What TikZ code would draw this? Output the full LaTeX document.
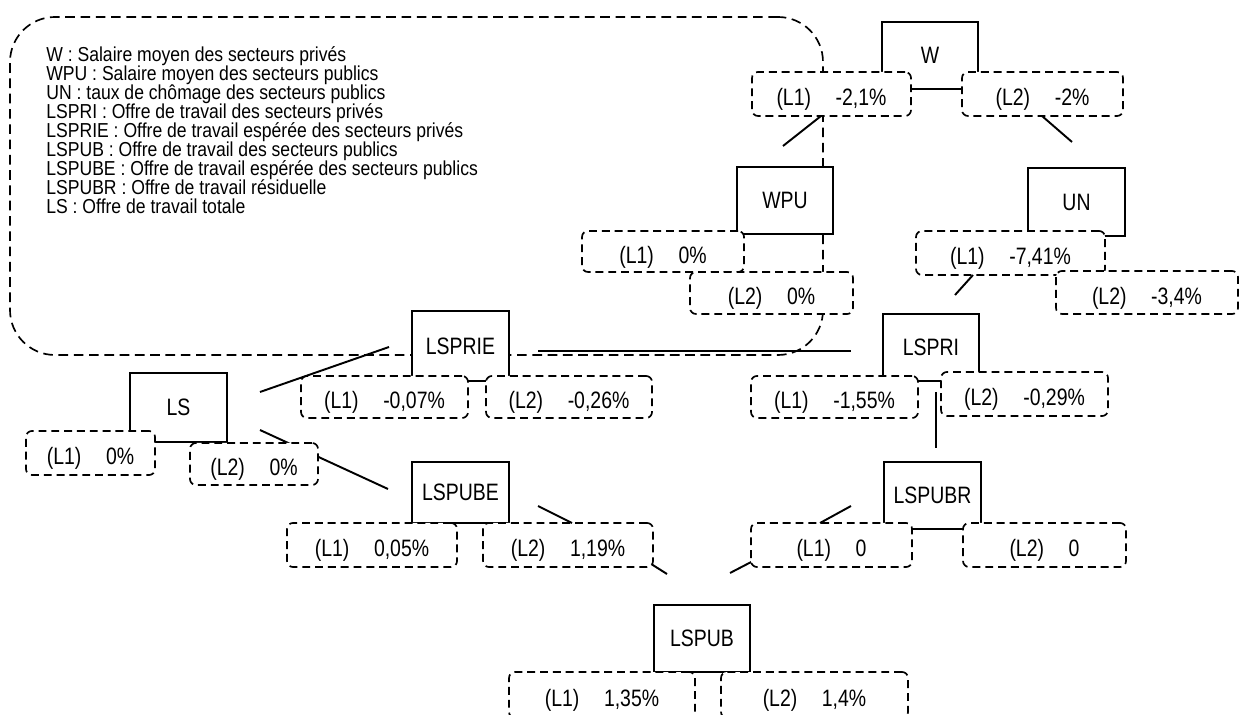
\documentclass[tikz,border=0pt]{standalone}
\usepackage{fontspec}
\setmainfont{Liberation Sans}[FakeStretch=0.82]
\newfontfamily\legendfont{Liberation Sans}[FakeStretch=0.87]
\usetikzlibrary{fit}

% value label: tag, gap, value; baseline placed so the caps sit just below the box centre
\newcommand{\lv}[2]{\raisebox{-6.7pt}[0pt][0pt]{#1\hspace{14pt}#2}}
% centred caps for the variable boxes
\newcommand{\ctr}[1]{\raisebox{-4.8pt}[0pt][0pt]{#1}}

\begin{document}
\begin{tikzpicture}[x=0.02cm,y=-0.02cm,
  every node/.style={font=\fontsize{13.5pt}{10.8pt}\selectfont},
  varbox/.style={draw, line width=1.1pt, fill=white, inner sep=0pt},
  valbox/.style={draw, dash pattern=on 4.5pt off 2.8pt, line width=0.95pt,
                 fill=white, rounded corners=3.4pt, inner sep=0pt},
  legendframe/.style={draw, dash pattern=on 5.5pt off 3.2pt, line width=0.95pt,
                      rounded corners=0.9cm, inner sep=0pt},
  legtxt/.style={anchor=base west, inner sep=0pt,
                 font=\legendfont\fontsize{11.5pt}{10.8pt}\selectfont},
  link/.style={line width=1.1pt}
]
\useasboundingbox (0,0) rectangle (1240,715);

% legend frame and its entries
\node[legendframe, fit={(10,17) (823,355)}] (legend) {};
\node[legtxt] (k1) at (46,62) {W : Salaire moyen des secteurs privés};
\node[legtxt] (k2) at (46,81) {WPU : Salaire moyen des secteurs publics};
\node[legtxt] (k3) at (46,100) {UN : taux de chômage des secteurs publics};
\node[legtxt] (k4) at (46,119) {LSPRI : Offre de travail des secteurs privés};
\node[legtxt] (k5) at (46,138) {LSPRIE : Offre de travail espérée des secteurs privés};
\node[legtxt] (k6) at (46,157) {LSPUB : Offre de travail des secteurs publics};
\node[legtxt] (k7) at (46,176) {LSPUBE : Offre de travail espérée des secteurs publics};
\node[legtxt] (k8) at (46,195) {LSPUBR : Offre de travail résiduelle};
\node[legtxt] (k9) at (46,214) {LS : Offre de travail totale};

% end points of the short connectors
\coordinate (c1a) at (821,116);  \coordinate (c1b) at (783,146);
\coordinate (c2a) at (1042,116); \coordinate (c2b) at (1072,142);
\coordinate (c3a) at (973,275);  \coordinate (c3b) at (955,295);
\coordinate (c4a) at (538,351);  \coordinate (c4b) at (851,351);
\coordinate (c5a) at (936,392);  \coordinate (c5b) at (936,448);
\coordinate (c6a) at (260,392);  \coordinate (c6b) at (389,347);
\coordinate (c7a) at (260,430);  \coordinate (c7b) at (388,489);
\coordinate (c8a) at (538,506);  \coordinate (c8b) at (572,523);
\coordinate (c9a) at (648,562);  \coordinate (c9b) at (667,574);
\coordinate (c10a) at (820,523); \coordinate (c10b) at (851,506);
\coordinate (c11a) at (755,560); \coordinate (c11b) at (730,573);

% connectors partly hidden behind the value boxes
\draw[link] (c7a) -- (c7b);
\draw[link] (c9a) -- (c9b);
\draw[link] (c11a) -- (c11b);

% W
\node[varbox, fit={(882,22) (978,89)}] (w) {\ctr{W}};
\node[valbox, fit={(752,72) (911,116)}] (wa) {\lv{(L1)}{-2,1\%}};
\node[valbox, fit={(962,72) (1123,116)}] (wb) {\lv{(L2)}{-2\%}};

% WPU
\node[varbox, fit={(737,167) (833,234)}] (wpu) {\ctr{WPU}};
\node[valbox, fit={(582,231) (744,272)}] (wpua) {\lv{(L1)}{0\%}};
\node[valbox, fit={(690,272) (853,314)}] (wpub) {\lv{(L2)}{0\%}};

% UN
\node[varbox, fit={(1028,168) (1125,236)}] (un) {\ctr{UN}};
\node[valbox, fit={(916,231) (1105,275)}] (una) {\lv{(L1)}{-7,41\%}};
\node[valbox, fit={(1056,271) (1238,314)}] (unb) {\lv{(L2)}{-3,4\%}};

% LSPRIE
\node[varbox, fit={(412,311) (509,381)}] (lsprie) {\ctr{LSPRIE}};
\node[valbox, fit={(301,376) (468,418)}] (lspriea) {\lv{(L1)}{-0,07\%}};
\node[valbox, fit={(486,376) (652,418)}] (lsprieb) {\lv{(L2)}{-0,26\%}};

% LSPRI
\node[varbox, fit={(883,314) (979,381)}] (lspri) {\ctr{LSPRI}};
\node[valbox, fit={(751,376) (918,418)}] (lspria) {\lv{(L1)}{-1,55\%}};
\node[valbox, fit={(941,372) (1108,416)}] (lsprib) {\lv{(L2)}{-0,29\%}};

% LS
\node[varbox, fit={(130,373) (227,442)}] (ls) {\ctr{LS}};
\node[valbox, fit={(26,431) (155,475)}] (lsa) {\lv{(L1)}{0\%}};
\node[valbox, fit={(190,443) (318,485)}] (lsb) {\lv{(L2)}{0\%}};

% LSPUBE
\node[varbox, fit={(412,462) (509,523)}] (lspube) {\ctr{LSPUBE}};
\node[valbox, fit={(287,523) (457,567)}] (lspubea) {\lv{(L1)}{0,05\%}};
\node[valbox, fit={(483,523) (653,567)}] (lspubeb) {\lv{(L2)}{1,19\%}};

% LSPUBR
\node[varbox, fit={(884,462) (981,529)}] (lspubr) {\ctr{LSPUBR}};
\node[valbox, fit={(751,523) (912,567)}] (lspubra) {\lv{(L1)}{0}};
\node[valbox, fit={(963,523) (1126,567)}] (lspubrb) {\lv{(L2)}{0}};

% LSPUB
\node[varbox, fit={(654,605) (750,672)}] (lspub) {\ctr{LSPUB}};
\node[valbox, fit={(509,672) (695,718)}] (lspuba) {\lv{(L1)}{1,35\%}};
\node[valbox, fit={(721,672) (908,718)}] (lspubb) {\lv{(L2)}{1,4\%}};

% connectors drawn over everything
\draw[link] (c1a) -- (c1b);
\draw[link] (c2a) -- (c2b);
\draw[link] (c3a) -- (c3b);
\draw[link] (c4a) -- (c4b);
\draw[link] (c5a) -- (c5b);
\draw[link] (c6a) -- (c6b);
\draw[link] (c8a) -- (c8b);
\draw[link] (c10a) -- (c10b);
\end{tikzpicture}
\end{document}
